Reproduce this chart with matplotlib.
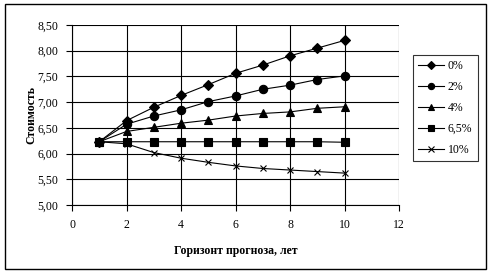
import matplotlib
matplotlib.use("Agg")
import matplotlib.pyplot as plt
from matplotlib.patches import Rectangle
from matplotlib.ticker import FuncFormatter

# horizon, years
years = [1, 2, 3, 4, 5, 6, 7, 8, 9, 10]

# value by discount rate
val_0 = [6.23, 6.64, 6.90, 7.13, 7.34, 7.56, 7.72, 7.90, 8.05, 8.20]
val_2 = [6.23, 6.57, 6.73, 6.85, 7.01, 7.12, 7.25, 7.33, 7.44, 7.51]
val_4 = [6.23, 6.43, 6.51, 6.59, 6.65, 6.73, 6.78, 6.81, 6.88, 6.91]
val_65 = [6.23, 6.23, 6.23, 6.23, 6.23, 6.23, 6.23, 6.23, 6.23, 6.22]
val_10 = [6.23, 6.19, 6.02, 5.91, 5.83, 5.76, 5.71, 5.68, 5.65, 5.62]

labels = ["0%", "2%", "4%", "6,5%", "10%"]
markers = ["D", "o", "^", "s", "x"]
msizes = [5.5, 6, 6, 5.5, 5]

plt.rcParams["font.family"] = ["Liberation Serif", "DejaVu Serif"]

W, H = 493, 277
fig = plt.figure(figsize=(W / 100, H / 100), dpi=100)

# outer chart frame
fig.patches.append(Rectangle((5 / W, 1 - 269 / H), 481 / W, 265 / H,
                             transform=fig.transFigure, fill=False,
                             edgecolor="black", linewidth=1))

ax = fig.add_axes([72 / W, 1 - 205 / H, 327 / W, 180 / H])

for vals, lab, mk, ms in zip([val_0, val_2, val_4, val_65, val_10], labels, markers, msizes):
    ax.plot(years, vals, color="black", linewidth=0.8, marker=mk, markersize=ms,
            markerfacecolor="black", markeredgecolor="black", markeredgewidth=0.8,
            label=lab, clip_on=False)

ax.set_xlim(0, 12)
ax.set_ylim(5.0, 8.5)
ax.set_xticks(range(0, 13, 2))
ax.set_yticks([5.0 + 0.5 * i for i in range(8)])
ax.yaxis.set_major_formatter(FuncFormatter(lambda v, p: f"{v:.2f}".replace(".", ",")))
ax.grid(True, color="black", linewidth=0.8)
ax.set_axisbelow(True)
for side in ["top", "right"]:
    ax.spines[side].set_visible(False)
ax.spines["left"].set_linewidth(0.8)
ax.spines["bottom"].set_linewidth(0.8)
ax.tick_params(direction="out", length=4, width=0.8, labelsize=8.5, pad=6)

ax.set_xlabel("Горизонт прогноза, лет", fontsize=8.5, fontweight="bold", labelpad=10)
ax.set_ylabel("Стоимость", fontsize=8.5, fontweight="bold", labelpad=0)

leg = ax.legend(loc="upper left", bbox_to_anchor=(413 / W, 1 - 55 / H),
                bbox_transform=fig.transFigure, frameon=True, fancybox=False,
                fontsize=8.5, handlelength=2.2, handletextpad=0.3,
                labelspacing=0.75, borderpad=0.45, borderaxespad=0,
                markerscale=0.75)
leg.get_frame().set_edgecolor("black")
leg.get_frame().set_linewidth(0.8)

fig.savefig("out.png", dpi=100)
